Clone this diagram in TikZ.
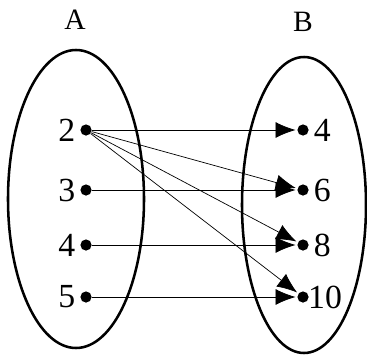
\documentclass[tikz,border=0pt]{standalone}
\usepackage{fontspec}
\setmainfont{Liberation Serif}
\usetikzlibrary{arrows.meta}
\tikzset{
  setline/.style={line width=1.8pt},
  elem/.style={circle,fill,inner sep=0pt,minimum size=2.8mm},
  map/.style={-{Latex[length=5mm,width=4mm]},line width=0.5pt,shorten >=0.4mm},
}
\begin{document}
\begin{tikzpicture}[x=0.025cm,y=-0.025cm,font=\fontsize{24}{27}\selectfont]
  \useasboundingbox (0,0) rectangle (367,356);
  % the two sets
  \draw[setline] (76,199) ellipse (68 and 149);
  \draw[setline] (304,205) ellipse (62 and 148);
  \node[font=\fontsize{21}{24}\selectfont] (A) at (75,20) {A};
  \node[font=\fontsize{21}{24}\selectfont] (B) at (303,22) {B};
  % elements
  \foreach \n/\y in {2/130,3/190,4/245,5/297}
    \node[elem,label={[label distance=0pt]left:\n}] (a\n) at (86,\y) {};
  \foreach \n/\y in {4/130,6/190,8/245}
    \node[elem,label={[label distance=0pt]right:\n}] (b\n) at (303,\y) {};
  \node[elem,label={[label distance=-4pt]right:10}] (b10) at (303,297) {};
  % the relation
  \foreach \s/\t in {2/4,2/6,2/8,2/10,3/6,4/8,5/10}
    \draw[map] (a\s) -- (b\t);
\end{tikzpicture}
\end{document}
